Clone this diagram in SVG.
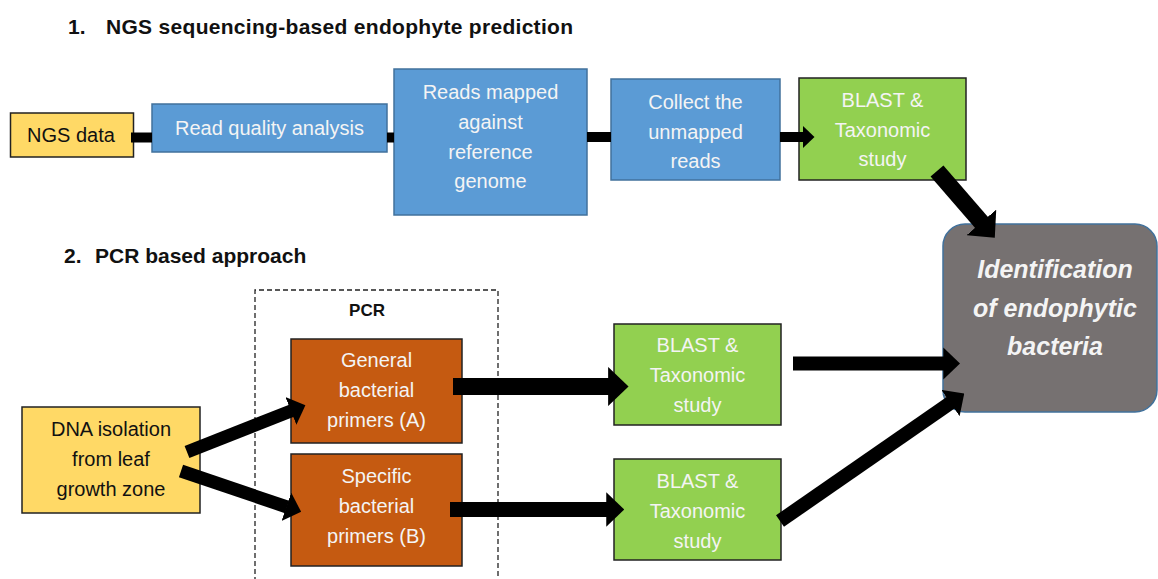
<svg xmlns="http://www.w3.org/2000/svg" width="1158" height="579" viewBox="0 0 1158 579">
<defs>
<style>
.t{font-family:"Liberation Sans",Arial,sans-serif;font-size:20px;text-anchor:middle;fill:#F4F4F4}
.d{fill:#111}
.h{font-family:"Liberation Sans",Arial,sans-serif;font-size:21px;font-weight:bold;fill:#111}
.yel{fill:#FFD966;stroke:#222;stroke-width:1.5}
.blu{fill:#5B9BD5;stroke:#41719C;stroke-width:1.5}
.grn{fill:#92D050;stroke:#222;stroke-width:1.5}
.org{fill:#C55A11;stroke:#222;stroke-width:1.5}
.bi{font-family:"Liberation Sans",Arial,sans-serif;font-size:25px;font-weight:bold;font-style:italic;text-anchor:middle;fill:#F4F4F4}
.c{stroke:#000;fill:none}
.a{stroke:#000;fill:none;marker-end:url(#ah)}
</style>
<marker id="ah" viewBox="0 0 12 23" markerWidth="1.2" markerHeight="2.3" refX="0.5" refY="11.5" orient="auto" markerUnits="strokeWidth">
<path d="M0,0 L12,11.5 L0,23 z" fill="#000"/>
</marker>
</defs>
<rect width="1158" height="579" fill="#fff"/>

<g id="titles">
<text class="h" x="68" y="34">1.</text>
<text class="h" x="106" y="34" textLength="467">NGS sequencing-based endophyte prediction</text>
<text class="h" x="64" y="263">2.</text>
<text class="h" x="95" y="263">PCR based approach</text>
</g>

<g id="pcr-group">
<path d="M255,590 V290 H498 V590" fill="none" stroke="#222" stroke-width="1.3" stroke-dasharray="5,3"/>
<text x="367" y="316" style="font-family:'Liberation Sans',Arial,sans-serif;font-size:17px;font-weight:bold;text-anchor:middle;fill:#111">PCR</text>
</g>

<g id="ngs-data">
<rect class="yel" x="10.5" y="113" width="123" height="44"/>
<text class="t d" x="71" y="142">NGS data</text>
</g>
<g id="read-quality">
<rect class="blu" x="152" y="104" width="235" height="48"/>
<text class="t" x="269.5" y="135">Read quality analysis</text>
</g>
<g id="reads-mapped">
<rect class="blu" x="394" y="69" width="193" height="146"/>
<text class="t" x="490.5" y="99">Reads mapped</text>
<text class="t" x="490.5" y="129">against</text>
<text class="t" x="490.5" y="159">reference</text>
<text class="t" x="490.5" y="188">genome</text>
</g>
<g id="collect-unmapped">
<rect class="blu" x="611" y="79" width="169" height="101"/>
<text class="t" x="695.5" y="109">Collect the</text>
<text class="t" x="695.5" y="139">unmapped</text>
<text class="t" x="695.5" y="168">reads</text>
</g>
<g id="blast-top">
<rect class="grn" x="799" y="78" width="167" height="102"/>
<text class="t" x="882.5" y="107">BLAST &amp;</text>
<text class="t" x="882.5" y="137">Taxonomic</text>
<text class="t" x="882.5" y="166">study</text>
</g>
<g id="identification">
<rect x="943" y="224" width="214" height="188" rx="22" fill="#767171" stroke="#41719C" stroke-width="1.5"/>
<text class="bi" x="1055" y="278">Identification</text>
<text class="bi" x="1055" y="317">of endophytic</text>
<text class="bi" x="1055" y="355">bacteria</text>
</g>
<g id="dna-isolation">
<rect class="yel" x="22" y="407" width="178" height="106"/>
<text class="t d" x="111" y="436">DNA isolation</text>
<text class="t d" x="111" y="466">from leaf</text>
<text class="t d" x="111" y="496">growth zone</text>
</g>
<g id="general-primers">
<rect class="org" x="291" y="339" width="171" height="104"/>
<text class="t" x="376.5" y="367">General</text>
<text class="t" x="376.5" y="397">bacterial</text>
<text class="t" x="376.5" y="427">primers (A)</text>
</g>
<g id="specific-primers">
<rect class="org" x="291" y="454" width="171" height="112"/>
<text class="t" x="376.5" y="483">Specific</text>
<text class="t" x="376.5" y="513">bacterial</text>
<text class="t" x="376.5" y="543">primers (B)</text>
</g>
<g id="blast-a">
<rect class="grn" x="614" y="324" width="167" height="101"/>
<text class="t" x="697.5" y="352">BLAST &amp;</text>
<text class="t" x="697.5" y="382">Taxonomic</text>
<text class="t" x="697.5" y="412">study</text>
</g>
<g id="blast-b">
<rect class="grn" x="614" y="459" width="167" height="101"/>
<text class="t" x="697.5" y="488">BLAST &amp;</text>
<text class="t" x="697.5" y="518">Taxonomic</text>
<text class="t" x="697.5" y="548">study</text>
</g>

<g id="connectors">
<line class="c" x1="131" y1="137.5" x2="152" y2="137.5" stroke-width="10"/>
<line class="c" x1="387" y1="137.5" x2="394" y2="137.5" stroke-width="10"/>
<line class="c" x1="587" y1="137" x2="611" y2="137" stroke-width="10"/>
<line class="a" x1="780" y1="137" x2="803" y2="137" stroke-width="10"/>
<line class="a" x1="937" y1="171" x2="982" y2="223" stroke-width="17"/>
<line class="a" x1="187" y1="452" x2="291.5" y2="410.7" stroke-width="13"/>
<line class="a" x1="181" y1="471" x2="287" y2="507" stroke-width="13"/>
<line class="a" x1="453" y1="386.5" x2="609" y2="386.5" stroke-width="17"/>
<line class="a" x1="450" y1="509.5" x2="607" y2="509.5" stroke-width="15"/>
<line class="a" x1="793" y1="363.5" x2="944" y2="363.5" stroke-width="14"/>
<line class="a" x1="780" y1="521" x2="951" y2="402.6" stroke-width="14"/>
</g>
</svg>
